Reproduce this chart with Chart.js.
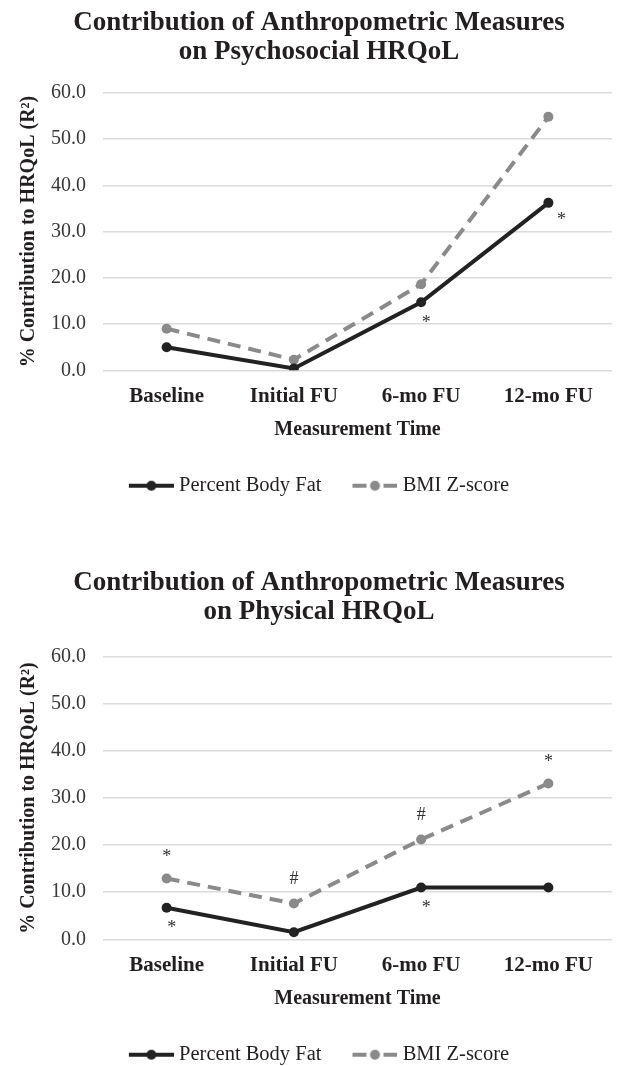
<!DOCTYPE html>
<html>
<head>
<meta charset="utf-8">
<script src="https://cdn.jsdelivr.net/npm/chart.js@4.4.0/dist/chart.umd.min.js"></script>
<style>
body { margin: 0; background: #fff; overflow: hidden; width: 617px; height: 1066px; }
canvas { position: absolute; left: 0; }
#psycho { top: 0; }
#physical { top: 569px; }
</style>
</head>
<body>
<canvas id="psycho" width="617" height="540"></canvas>
<canvas id="physical" width="617" height="540"></canvas>
<script>
const timePoints = ['Baseline', 'Initial FU', '6-mo FU', '12-mo FU'];
const yTicks = [0, 10, 20, 30, 40, 50, 60];
const seriesNames = ['Percent Body Fat', 'BMI Z-score'];

const psychoBodyFat = [5.0, 0.4, 14.7, 36.2];
const psychoBmiZ = [9.0, 2.3, 18.6, 54.8];
const psychoMarks = [
	{ series: 0, index: 2, symbol: '*', side: 'below' },
	{ series: 0, index: 3, symbol: '*', side: 'belowRight' }
];

const physicalBodyFat = [6.7, 1.5, 11.0, 11.0];
const physicalBmiZ = [12.9, 7.6, 21.2, 33.1];
const physicalMarks = [
	{ series: 1, index: 0, symbol: '*', side: 'above' },
	{ series: 0, index: 0, symbol: '*', side: 'below' },
	{ series: 1, index: 1, symbol: '#', side: 'above' },
	{ series: 1, index: 2, symbol: '#', side: 'above' },
	{ series: 0, index: 2, symbol: '*', side: 'below' },
	{ series: 1, index: 3, symbol: '*', side: 'above' }
];

const serif = "'Liberation Serif', 'Times New Roman', serif";
const inkColor = '#231f20';
const fatColor = '#222222';
const bmiColor = '#8a8a8a';

Chart.defaults.font.family = serif;
Chart.defaults.color = inkColor;

// legend swatch: line with a dot in the middle
function legendSwatch(color, dashed) {
	const c = document.createElement('canvas');
	c.width = 50;
	c.height = 12;
	const g = c.getContext('2d');
	g.strokeStyle = color;
	g.fillStyle = color;
	g.lineWidth = 4;
	g.beginPath();
	if (dashed) {
		g.moveTo(5, 6); g.lineTo(19, 6);
		g.moveTo(36, 6); g.lineTo(50, 6);
	} else {
		g.moveTo(5, 6); g.lineTo(50, 6);
	}
	g.stroke();
	g.beginPath();
	g.arc(27.5, 6, 5, 0, Math.PI * 2);
	g.fill();
	return c;
}

const swatches = [legendSwatch(fatColor, false), legendSwatch(bmiColor, true)];

const markOffsets = {
	above: [0, -26],
	below: [5, 16],
	belowRight: [13, 13]
};

const markPlugin = {
	id: 'marks',
	afterDatasetsDraw(chart, args, opts) {
		const ctx = chart.ctx;
		ctx.save();
		ctx.font = '18px ' + serif;
		ctx.fillStyle = '#333333';
		ctx.textAlign = 'center';
		ctx.textBaseline = 'alphabetic';
		(opts.items || []).forEach(m => {
			const pt = chart.getDatasetMeta(m.series).data[m.index];
			const off = markOffsets[m.side];
			const cx = pt.x + off[0];
			const cy = pt.y + off[1];
			const tm = ctx.measureText(m.symbol);
			const base = cy + (tm.actualBoundingBoxAscent - tm.actualBoundingBoxDescent) / 2;
			ctx.fillText(m.symbol, cx, base);
		});
		ctx.restore();
	}
};

function makeChart(id, titleLines, fat, bmi, marks, titleTop, titleBottom) {
	const ctx = document.getElementById(id).getContext('2d');
	return new Chart(ctx, {
		type: 'line',
		data: {
			labels: timePoints,
			datasets: [{
				label: seriesNames[0],
				data: fat,
				borderColor: fatColor,
				backgroundColor: fatColor,
				borderWidth: 4,
				pointRadius: 5,
				pointBorderWidth: 0,
				pointBackgroundColor: fatColor,
				tension: 0
			}, {
				label: seriesNames[1],
				data: bmi,
				borderColor: bmiColor,
				backgroundColor: bmiColor,
				borderWidth: 4,
				borderDash: [13, 8],
				pointRadius: 5,
				pointBorderWidth: 0,
				pointBackgroundColor: bmiColor,
				tension: 0
			}]
		},
		options: {
			responsive: false,
			animation: false,
			devicePixelRatio: 1,
			layout: {
				padding: { left: 24, right: 3, top: 0, bottom: 34 }
			},
			plugins: {
				title: {
					display: true,
					text: titleLines,
					color: inkColor,
					font: { size: 27, weight: 'bold', lineHeight: 1.07 },
					padding: { top: titleTop, bottom: titleBottom }
				},
				legend: {
					position: 'bottom',
					labels: {
						usePointStyle: true,
						pointStyleWidth: 40,
						padding: 31,
						color: inkColor,
						font: { size: 20.5 },
						generateLabels: (chart) => chart.data.datasets.map((ds, i) => ({
							text: ds.label,
							pointStyle: swatches[i],
							datasetIndex: i,
							fontColor: inkColor,
							lineWidth: 0,
							strokeStyle: 'transparent',
							fillStyle: 'transparent'
						}))
					}
				},
				tooltip: { enabled: false },
				marks: { items: marks }
			},
			scales: {
				x: {
					offset: true,
					grid: { display: false, drawTicks: false },
					border: { display: false },
					ticks: {
						padding: 14,
						color: inkColor,
						font: { size: 21, weight: 'bold' }
					},
					title: {
						display: true,
						text: 'Measurement Time',
						color: inkColor,
						font: { size: 20, weight: 'bold' },
						padding: { top: -6, bottom: 3 }
					}
				},
				y: {
					min: 0,
					max: 60,
					afterBuildTicks: (scale) => {
						scale.ticks = yTicks.map(v => ({ value: v }));
					},
					grid: { color: '#dcdcdc', lineWidth: 1.5, drawTicks: false },
					border: { display: false },
					ticks: {
						padding: 17,
						color: '#383838',
						font: { size: 20 },
						callback: (v) => Number(v).toFixed(1)
					},
					title: {
						display: true,
						text: '% Contribution to HRQoL (R²)',
						color: inkColor,
						font: { size: 20, weight: 'bold', lineHeight: 0.3 },
						padding: { top: 2, bottom: 2 }
					}
				}
			}
		},
		plugins: [markPlugin]
	});
}

makeChart('psycho', ['Contribution of Anthropometric Measures', 'on Psychosocial HRQoL'],
	psychoBodyFat, psychoBmiZ, psychoMarks, 9, 26);
makeChart('physical', ['Contribution of Anthropometric Measures', 'on Physical HRQoL'],
	physicalBodyFat, physicalBmiZ, physicalMarks, 0, 30);
</script>
</body>
</html>
